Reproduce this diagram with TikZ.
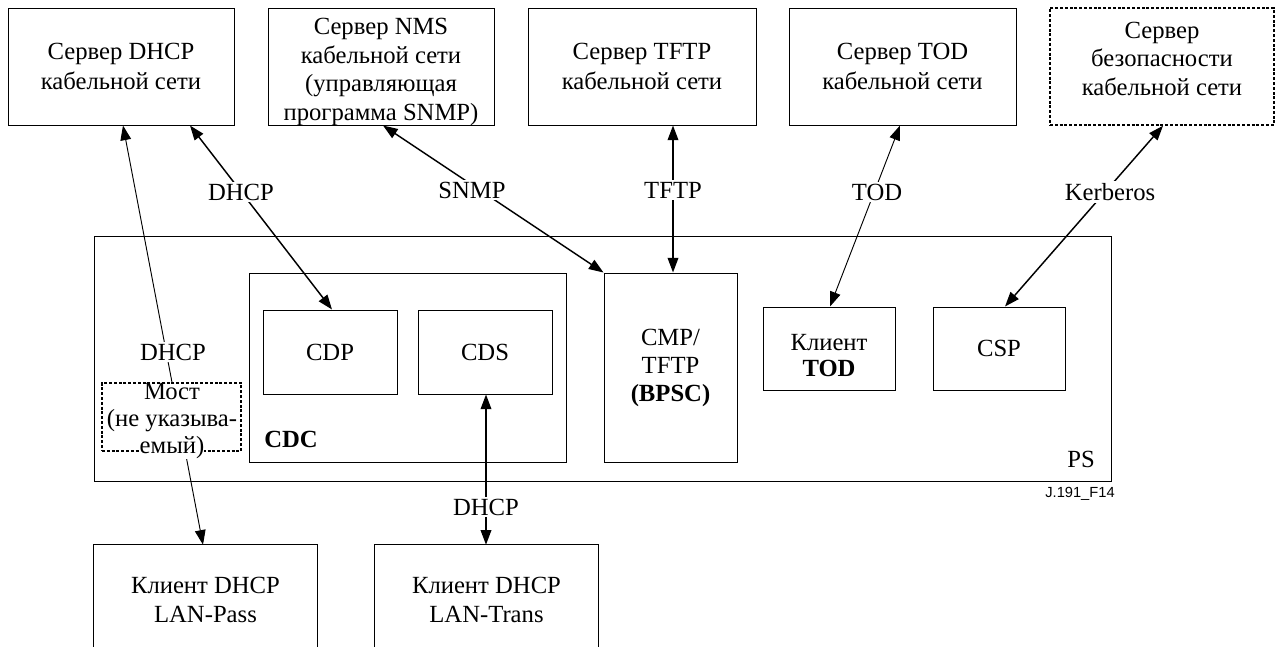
\documentclass[tikz,border=0pt]{standalone}
\usepackage{fontspec}
\setmainfont{Liberation Serif}
\newfontfamily\figsans{Liberation Sans}
\usetikzlibrary{arrows.meta}
\newcommand\bodyfont{\fontsize{18.5pt}{22pt}\selectfont}
\begin{document}
\begin{tikzpicture}[x=0.75pt,y=-0.75pt,
  txt/.style={font=\bodyfont, align=center},
  pxbox/.style n args={4}{at={({(#1+#3)/2},{(#2+#4)/2})},
     minimum width={(#3-#1)*0.75pt}, minimum height={(#4-#2)*0.75pt}},
  box/.style={txt, draw, line width=0.75pt, inner sep=0pt},
  dotbox/.style={txt, draw, line width=1.1pt, dash pattern=on 2.2pt off 1.4pt, inner sep=0pt},
  arr/.style={line width=1.1pt, {Triangle[length=11pt,width=8pt]}-{Triangle[length=11pt,width=8pt]}},
  thinarr/.style={arr, line width=0.7pt},
  lab/.style={txt, fill=white, inner sep=1.5pt}
]
\useasboundingbox (0,0) rectangle (1276,646);

% PS and inner boxes
\node[box, pxbox={94}{236}{1111}{481}] (ps) {};
\node[box, pxbox={249}{273}{566}{462}] (cdc) {};
\node[box, pxbox={263}{310}{397}{394}] (cdp) {CDP};
\node[box, pxbox={418}{310}{552}{394}] (cds) {CDS};
\node[box, pxbox={604}{273}{737}{462}, font=\fontsize{18.5pt}{21pt}\selectfont] (cmp) {CMP/\\TFTP\\\textbf{(BPSC)}};
\node[box, pxbox={763}{307}{895}{390}, font=\fontsize{18.5pt}{19.5pt}\selectfont] (tod) {\rule{0pt}{22pt}Клиент\\\textbf{TOD}};
\node[box, pxbox={933}{307}{1065}{390}] (csp) {CSP};
\node[txt, anchor=base west, inner sep=0pt] (cdclab) at (264,447) {\textbf{CDC}};
\node[txt, anchor=base east, inner sep=0pt] (pslab) at (1095,467) {PS};
\node[font=\figsans\fontsize{11pt}{13pt}\selectfont, anchor=base, inner sep=0pt] (figid) at (1080,497) {J.191\_F14};

% top servers
\node[box, pxbox={8}{8}{234}{125}] (s1) {Сервер DHCP\\кабельной сети};
\node[box, pxbox={268}{8}{494}{125}] (s2) {};
\node[txt, inner sep=0pt, font=\fontsize{18.5pt}{21.5pt}\selectfont] (s2text) at (381,72) {Сервер NMS\\кабельной сети\\(управляющая\\программа SNMP)};
\node[box, pxbox={528}{8}{756}{125}] (s3) {Сервер TFTP\\кабельной сети};
\node[box, pxbox={789}{8}{1016}{125}] (s4) {Сервер TOD\\кабельной сети};
\node[dotbox, pxbox={1050}{8}{1274}{125}, font=\fontsize{18.5pt}{21.5pt}\selectfont] (s5) {Сервер\\безопасности\\кабельной сети\rule[-12pt]{0pt}{12pt}};

% bottom clients (open at the bottom edge)
\node[txt, inner sep=0pt, pxbox={94}{545}{317}{655}] (p1) {Клиент DHCP\\LAN-Pass};
\node[txt, inner sep=0pt, pxbox={375}{545}{598}{655}] (p2) {Клиент DHCP\\LAN-Trans};
\draw[line width=0.75pt] (p1.south west) |- (p1.north east) -- (p1.south east);
\draw[line width=0.75pt] (p2.south west) |- (p2.north east) -- (p2.south east);

% connectors
\draw[thinarr] (123,0 |- s1.south) -- (203,0 |- p1.north);
\draw[arr] (190,0 |- s1.south) -- (332,0 |- cdp.north);
\draw[arr] (383,0 |- s2.south) -- (cmp.north west);
\draw[arr] (673,0 |- s3.south) -- (673,0 |- cmp.north);
\draw[thinarr] (900,0 |- s4.south) -- (830,0 |- tod.north);
\draw[arr] (1163,0 |- s5.south) -- (1005,0 |- csp.north);
\draw[arr] (486,0 |- cds.south) -- (486,0 |- p2.north);

% bridge (over the connector)
\node[dotbox, fill=white, pxbox={102}{383}{241}{451}] (br) {};
\node[txt, inner sep=0pt, font=\fontsize{18.5pt}{20.5pt}\selectfont] (brtext) at (172,421) {Мост\\(не указыва-\\{\fboxsep=0pt\colorbox{white}{емый)}}};

% connector labels
\node[lab] (l1) at (173,352) {DHCP};
\node[lab] (l2) at (241,192) {DHCP};
\node[lab] (l3) at (472,190) {SNMP};
\node[lab] (l4) at (673,190) {TFTP};
\node[lab] (l5) at (877,192) {TOD};
\node[lab] (l6) at (1110,192) {Kerberos};
\node[lab] (l7) at (486,507) {DHCP};
\end{tikzpicture}
\end{document}
